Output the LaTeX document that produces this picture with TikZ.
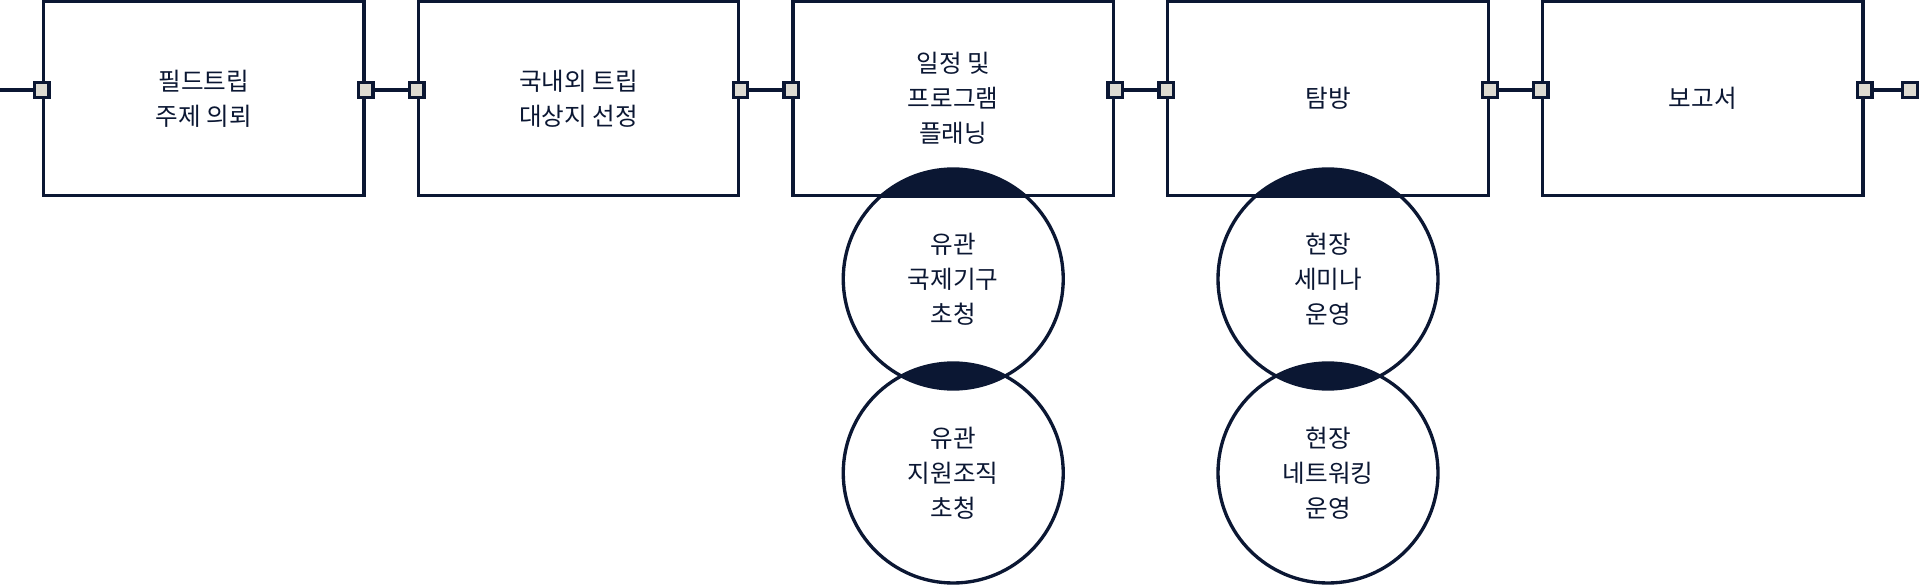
\documentclass[tikz,border=0pt]{standalone}
\usepackage{fontspec}
\setmainfont{Noto Sans CJK KR}
\usetikzlibrary{backgrounds}
\definecolor{navy}{HTML}{0B1733}
\definecolor{portgray}{HTML}{DDDBD2}

\begin{document}
\begin{tikzpicture}[
    stage/.style={draw=navy, line width=1.9pt, minimum width=6.41cm,
        minimum height=3.88cm, inner sep=0pt, align=center, text=navy,
        font=\fontsize{14}{20}\selectfont},
    bubble/.style={draw=navy, line width=1.9pt, circle, minimum size=4.4cm,
        inner sep=0pt, align=center, text=navy,
        font=\fontsize{14}{20}\selectfont},
    port/.style={draw=navy, fill=portgray, line width=1.9pt,
        minimum size=0.29cm, inner sep=0pt},
    link/.style={navy, line width=1.9pt},
]
\useasboundingbox (0,0) rectangle (38.38,-11.70);

% === Column positions ===
\def\colA{4.075}
\def\colB{11.57}
\def\colC{19.065}
\def\colD{26.56}
\def\colE{34.055}
\def\rowY{-1.97}   % stage centres
\coordinate (row) at (0,-1.80);   % port line

% === Stages ===
\node[stage] (trip)   at (\colA, \rowY) {필드트립\\주제 의뢰};
\node[stage] (target) at (\colB, \rowY) {국내외 트립\\대상지 선정};
\node[stage] (plan)   at (\colC, \rowY) {일정 및\\프로그램\\플래닝};
\node[stage] (visit)  at (\colD, \rowY) {탐방};
\node[stage] (report) at (\colE, \rowY) {보고서};

% === Sub-steps ===
\node[bubble] (intl)    at (\colC, -5.58) {유관\\국제기구\\초청};
\node[bubble] (support) at (\colC, -9.46) {유관\\지원조직\\초청};
\node[bubble] (seminar) at (\colD, -5.58) {현장\\세미나\\운영};
\node[bubble] (network) at (\colD, -9.46) {현장\\네트워킹\\운영};

% === Ports ===
\foreach \s in {trip, target, plan, visit, report} {
    \node[port] (\s-in)  at (\s.west |- row) {};
    \node[port] (\s-out) at (\s.east |- row) {};
}
\coordinate (start) at (0,-1.80);
\node[port] (finish) at (38.2,-1.80) {};

% === Links ===
\draw[link] (start) -- (trip-in);
\draw[link] (trip-out) -- (target-in);
\draw[link] (target-out) -- (plan-in);
\draw[link] (plan-out) -- (visit-in);
\draw[link] (visit-out) -- (report-in);
\draw[link] (report-out) -- (finish);

% Filled overlaps
\begin{scope}[on background layer]
    \begin{scope}
        \clip (plan.south west) rectangle (plan.north east);
        \fill[navy] (intl.center) circle (2.2);
    \end{scope}
    \begin{scope}
        \clip (visit.south west) rectangle (visit.north east);
        \fill[navy] (seminar.center) circle (2.2);
    \end{scope}
    \begin{scope}
        \clip (intl.center) circle (2.2);
        \fill[navy] (support.center) circle (2.2);
    \end{scope}
    \begin{scope}
        \clip (seminar.center) circle (2.2);
        \fill[navy] (network.center) circle (2.2);
    \end{scope}
\end{scope}

\end{tikzpicture}
\end{document}
